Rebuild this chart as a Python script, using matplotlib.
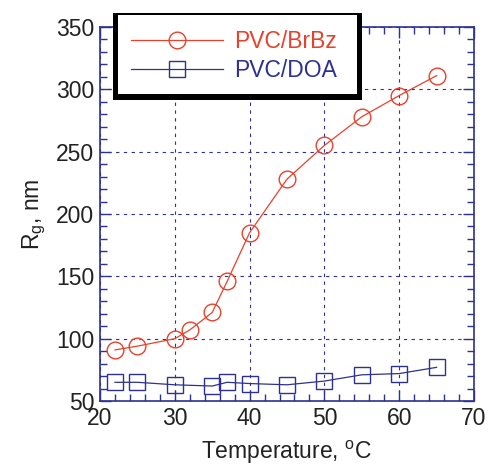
import matplotlib.pyplot as plt
from matplotlib.patches import Rectangle
from matplotlib.ticker import MultipleLocator

# data
temp_brbz = [22, 25, 30, 32, 35, 37, 40, 45, 50, 55, 60, 65]
rg_brbz = [91, 94, 100, 107, 121, 146, 185, 228, 255, 278, 295, 311]

temp_doa = [22, 25, 30, 35, 37, 40, 45, 50, 55, 60, 65]
rg_doa = [65, 65, 63, 62, 65, 64, 63, 66, 71, 72, 77]

red = "#e8412c"
blue = "#2e3192"

plt.rcParams["font.family"] = ["Liberation Sans", "DejaVu Sans"]

fig = plt.figure(figsize=(4.88, 4.67), dpi=100)
ax = fig.add_axes([100 / 488, 1 - 401 / 467, 374 / 488, 374 / 467])

ax.plot(temp_brbz, rg_brbz, "-", color=red, lw=0.9, marker="o", ms=12,
        mfc="none", mec=red, mew=1.0, label="PVC/BrBz")
ax.plot(temp_doa, rg_doa, "-", color=blue, lw=0.9, marker="s", ms=11.5,
        mfc="none", mec=blue, mew=1.0, label="PVC/DOA")

ax.set_xlim(20, 70)
ax.set_ylim(50, 350)
ax.xaxis.set_major_locator(MultipleLocator(10))
ax.xaxis.set_minor_locator(MultipleLocator(2))
ax.yaxis.set_major_locator(MultipleLocator(50))
ax.yaxis.set_minor_locator(MultipleLocator(10))

ax.grid(True, which="major", color=blue, ls=(0, (3, 4)), lw=0.8)

for s in ax.spines.values():
    s.set_color(blue)
    s.set_linewidth(1.2)

ax.tick_params(which="both", direction="in", top=True, right=True,
               color=blue, labelsize=16.5, labelcolor="#222222")
ax.tick_params(which="major", length=8, width=1.0, pad=4)
ax.tick_params(which="minor", length=5, width=1.0)

ax.set_xlabel("Temperature, $^{\\mathregular{o}}$C", fontsize=16.5, labelpad=7, color="#222222")
ax.set_ylabel("R$_{\\mathregular{g}}$, nm", fontsize=16.5, labelpad=6, color="#222222")

# legend box with heavy shadow frame
def fx(px):
    return px / 488

def fy(py):
    return 1 - py / 467

fig.patches.append(Rectangle((fx(113), fy(100)), fx(362) - fx(113), fy(13) - fy(100),
                             transform=fig.transFigure, fc="black", ec="none", zorder=5))
fig.patches.append(Rectangle((fx(118), fy(94)), fx(357) - fx(118), fy(15) - fy(94),
                             transform=fig.transFigure, fc="white", ec="none", zorder=6))

leg = fig.legend(loc="center", bbox_to_anchor=(fx(234), fy(56)), frameon=False,
                 fontsize=16.5, handlelength=4.0, labelspacing=0.25, handletextpad=0.5)
leg.set_zorder(7)
for txt, c in zip(leg.get_texts(), [red, blue]):
    txt.set_color(c)

fig.savefig("out.png", dpi=100)
